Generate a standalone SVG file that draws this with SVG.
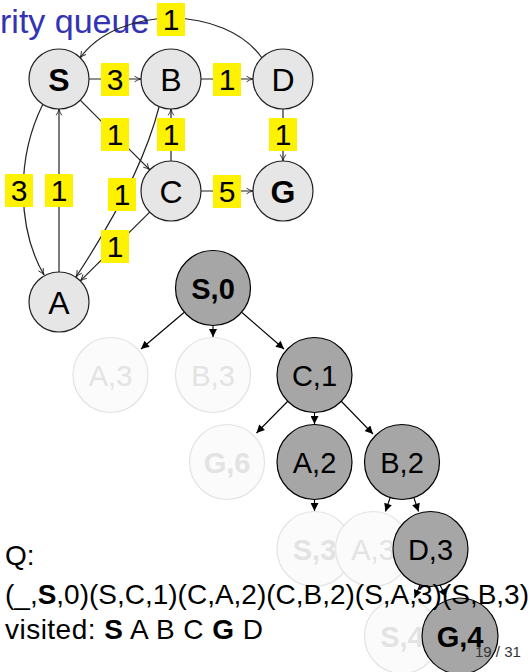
<svg xmlns="http://www.w3.org/2000/svg" width="532" height="672" viewBox="0 0 532 672">
<style>
text{font-family:"Liberation Sans",Arial,sans-serif}
.gn{fill:#e6e6e6;stroke:#222;stroke-width:1.2}
.gt{font-size:32px;fill:#000;text-anchor:middle}
.b{font-weight:bold}
.lbl rect{fill:#fff200}
.lbl text{font-size:30px;fill:#000;text-anchor:middle}
.ge{fill:none;stroke:#222;stroke-width:1.2;marker-end:url(#to)}
.tn{fill:#a6a6a6;stroke:#000;stroke-width:1.2}
.tf{fill:#fbfbfb;stroke:#e3e3e3;stroke-width:1.2}
.tt{font-size:29px;fill:#000;text-anchor:middle}
.tft{font-size:29px;fill:#e3e3e3;text-anchor:middle}
.te{fill:none;stroke:#000;stroke-width:1.1;marker-end:url(#tri)}
.body{font-size:28px;fill:#000}
</style>
<defs>
<marker id="to" viewBox="0 0 10 10" refX="9" refY="5" markerWidth="8" markerHeight="8" markerUnits="userSpaceOnUse" orient="auto"><path d="M1,1.5 Q5,4.2 9,5 Q5,5.8 1,8.5" fill="none" stroke="#222" stroke-width="1.1"/></marker>
<marker id="tri" viewBox="0 0 10 10" refX="10" refY="5" markerWidth="9" markerHeight="8" markerUnits="userSpaceOnUse" orient="auto"><path d="M0,0 L10,5 L0,10 z" fill="#000"/></marker>
</defs>

<text x="0" y="33" style="font-size:34px;fill:#3333b3">rity queue</text>

<g id="graph-edges">
<path class="ge" d="M262,58 C225,5 118,5 80,58"/>
<path class="ge" d="M89,79 L141,79"/>
<path class="ge" d="M201,79 L253,79"/>
<path class="ge" d="M80.2,100.2 L149.8,169.8"/>
<path class="ge" d="M171,161 L171,109"/>
<path class="ge" d="M283,109 L283,161"/>
<path class="ge" d="M201,191 L253,191"/>
<path class="ge" d="M59,272 L59,109"/>
<path class="ge" d="M149.7,212.1 L80.3,280.9"/>
<path class="ge" d="M159,107 Q141,178 76,277"/>
<path class="ge" d="M43,104 C15,160 18,230 44,275"/>
</g>

<g id="graph-labels" class="lbl">
<g><rect x="157" y="3" width="28" height="33"/><text x="171" y="30">1</text></g>
<g><rect x="101" y="63" width="28" height="33"/><text x="115" y="90">3</text></g>
<g><rect x="213" y="63" width="28" height="33"/><text x="227" y="90">1</text></g>
<g><rect x="101" y="118" width="28" height="33"/><text x="115" y="145">1</text></g>
<g><rect x="157" y="118" width="28" height="33"/><text x="171" y="145">1</text></g>
<g><rect x="269" y="118" width="28" height="33"/><text x="283" y="145">1</text></g>
<g><rect x="5" y="174" width="28" height="33"/><text x="19" y="201">3</text></g>
<g><rect x="45" y="174" width="28" height="33"/><text x="59" y="201">1</text></g>
<g><rect x="108" y="178" width="28" height="33"/><text x="122" y="205">1</text></g>
<g><rect x="213" y="175" width="28" height="33"/><text x="227" y="202">5</text></g>
<g><rect x="101" y="230" width="28" height="33"/><text x="115" y="257">1</text></g>
</g>

<g id="gS"><circle class="gn" cx="59" cy="79" r="30"/><text class="gt b" x="59" y="90.5">S</text></g>
<g id="gB"><circle class="gn" cx="171" cy="79" r="30"/><text class="gt" x="171" y="90.5">B</text></g>
<g id="gD"><circle class="gn" cx="283" cy="79" r="30"/><text class="gt" x="283" y="90.5">D</text></g>
<g id="gC"><circle class="gn" cx="171" cy="191" r="30"/><text class="gt" x="171" y="202.5">C</text></g>
<g id="gG"><circle class="gn" cx="283" cy="191" r="30"/><text class="gt b" x="283" y="202.5">G</text></g>
<g id="gA"><circle class="gn" cx="59" cy="302" r="30"/><text class="gt" x="59" y="313.5">A</text></g>

<g id="t-A3"><circle class="tf" cx="110.5" cy="375" r="37.5"/><text class="tft" x="110.5" y="385.5">A,3</text></g>
<g id="t-B3"><circle class="tf" cx="213" cy="375" r="37.5"/><text class="tft" x="213" y="385.5">B,3</text></g>
<g id="t-G6"><circle class="tf" cx="227" cy="462" r="37.5"/><text class="tft b" x="227" y="472.5">G,6</text></g>
<g id="t-S3"><circle class="tf" cx="314.5" cy="549" r="37.5"/><text class="tft b" x="314.5" y="559.5">S,3</text></g>
<g id="t-A3b"><circle class="tf" cx="373" cy="549" r="37.5"/><text class="tft" x="373" y="559.5">A,3</text></g>
<g id="t-S4"><circle class="tf" cx="402" cy="636" r="37.5"/><text class="tft b" x="402" y="646.5">S,4</text></g>

<g id="tree-edges">
<path class="te" d="M184,312.5 L141,349"/>
<path class="te" d="M213,325.5 L213,337"/>
<path class="te" d="M242,312.5 L284,349"/>
<path class="te" d="M288,401 L256.5,433"/>
<path class="te" d="M314.5,412.5 L314.5,424"/>
<path class="te" d="M341,401 L373,434"/>
<path class="te" d="M314.5,499.5 L314.5,511"/>
<path class="te" d="M390,498 L385.5,511.5"/>
<path class="te" d="M414,498 L418.5,511.5"/>
<path class="te" d="M420,585 L414.5,598"/>
<path class="te" d="M440,585 L446,597"/>
</g>

<g id="t-S0"><circle class="tn" cx="213" cy="288" r="37.5"/><text class="tt b" x="213" y="298.5">S,0</text></g>
<g id="t-C1"><circle class="tn" cx="314.5" cy="375" r="37.5"/><text class="tt" x="314.5" y="385.5">C,1</text></g>
<g id="t-A2"><circle class="tn" cx="314.5" cy="462" r="37.5"/><text class="tt" x="314.5" y="472.5">A,2</text></g>
<g id="t-B2"><circle class="tn" cx="402" cy="462" r="37.5"/><text class="tt" x="402" y="472.5">B,2</text></g>
<g id="t-D3"><circle class="tn" cx="430.5" cy="549" r="37.5"/><text class="tt" x="430.5" y="559.5">D,3</text></g>
<g id="t-G4"><circle class="tn" cx="460" cy="636" r="38"/><text class="tt b" x="460" y="646.5">G,4</text></g>

<text class="body" x="5" y="565">Q:</text>
<text class="body" x="5" y="604" textLength="524" lengthAdjust="spacingAndGlyphs">(_,<tspan class="b">S</tspan>,0)(S,C,1)(C,A,2)(C,B,2)(S,A,3)(S,B,3)</text>
<text class="body" x="5" y="639" textLength="258" lengthAdjust="spacing">visited: <tspan class="b">S</tspan> A B C <tspan class="b">G</tspan> D</text>
<text x="475" y="657" style="font-size:15px;fill:#333">19 / 31</text>
</svg>
